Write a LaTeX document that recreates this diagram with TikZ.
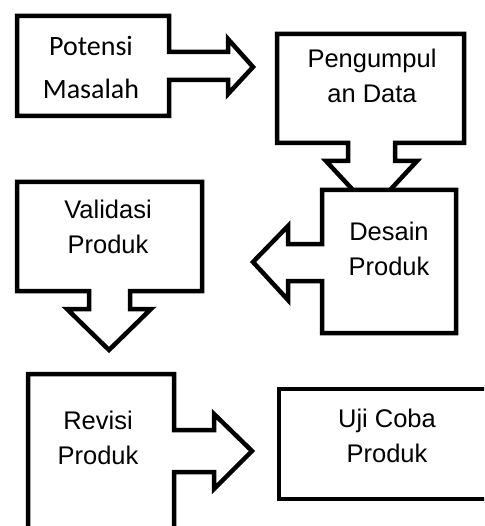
\documentclass[tikz,border=0pt]{standalone}
\usepackage{fontspec}
\setmainfont{Liberation Sans}
\newfontfamily\calib{Carlito}
\begin{document}
\begin{tikzpicture}[x=1pt,y=-1pt,
  shp/.style={draw=black,line width=4.5pt,fill=white,line join=miter,miter limit=10},
  lbl/.style={anchor=base,inner sep=0pt,font=\fontsize{25.5}{35}\selectfont},
  lblc/.style={anchor=base,inner sep=0pt,font=\calib\fontsize{28}{43}\selectfont}]
\useasboundingbox (0,0) rectangle (484,526);
\begin{scope}
\clip (0,0) rectangle (484,526);
% Potensi Masalah callout (right arrow)
\draw[shp] (17,16) -- (169,16) -- (169,52) -- (228,52) -- (228,39) -- (253,67) -- (228,94) -- (228,80) -- (169,80) -- (169,116) -- (17,116) -- cycle;
% Pengumpulan Data callout (down arrow)
\draw[shp] (277,34) -- (464,34) -- (464,143) -- (395,143) -- (395,161) -- (417,161) -- (371.5,210) -- (326,161) -- (348,161) -- (348,143) -- (277,143) -- cycle;
% Desain Produk callout (left arrow)
\draw[shp] (322,190) -- (456,190) -- (456,333) -- (322,333) -- (322,281) -- (288,281) -- (288,300) -- (253,262) -- (288,226) -- (288,244) -- (322,244) -- cycle;
% Validasi Produk callout (down arrow)
\draw[shp] (17,182) -- (202,182) -- (202,291) -- (130,291) -- (130,309) -- (151,309) -- (109,350) -- (67,309) -- (89,309) -- (89,291) -- (17,291) -- cycle;
% Revisi Produk callout (right arrow)
\draw[shp] (28,374) -- (174,374) -- (174,430) -- (214,430) -- (214,414) -- (252,451) -- (214,489) -- (214,472) -- (174,472) -- (174,545) -- (28,545) -- cycle;
% Uji Coba Produk box
\draw[shp] (279,389) rectangle (500,499);
\end{scope}
\node[lblc,align=center] (potensi) at (91,99) {Potensi\\Masalah};
\node[lbl,align=center] (pengumpul) at (372,103) {Pengumpul\\an Data};
\node[lbl,align=center] (desain) at (389,275) {Desain\\Produk};
\node[lbl,align=center] (validasi) at (108,253) {Validasi\\Produk};
\node[lbl,align=center] (revisi) at (98,464) {Revisi\\Produk};
\node[lbl,align=center] (uji) at (387,462) {Uji Coba\\Produk};
\end{tikzpicture}
\end{document}
